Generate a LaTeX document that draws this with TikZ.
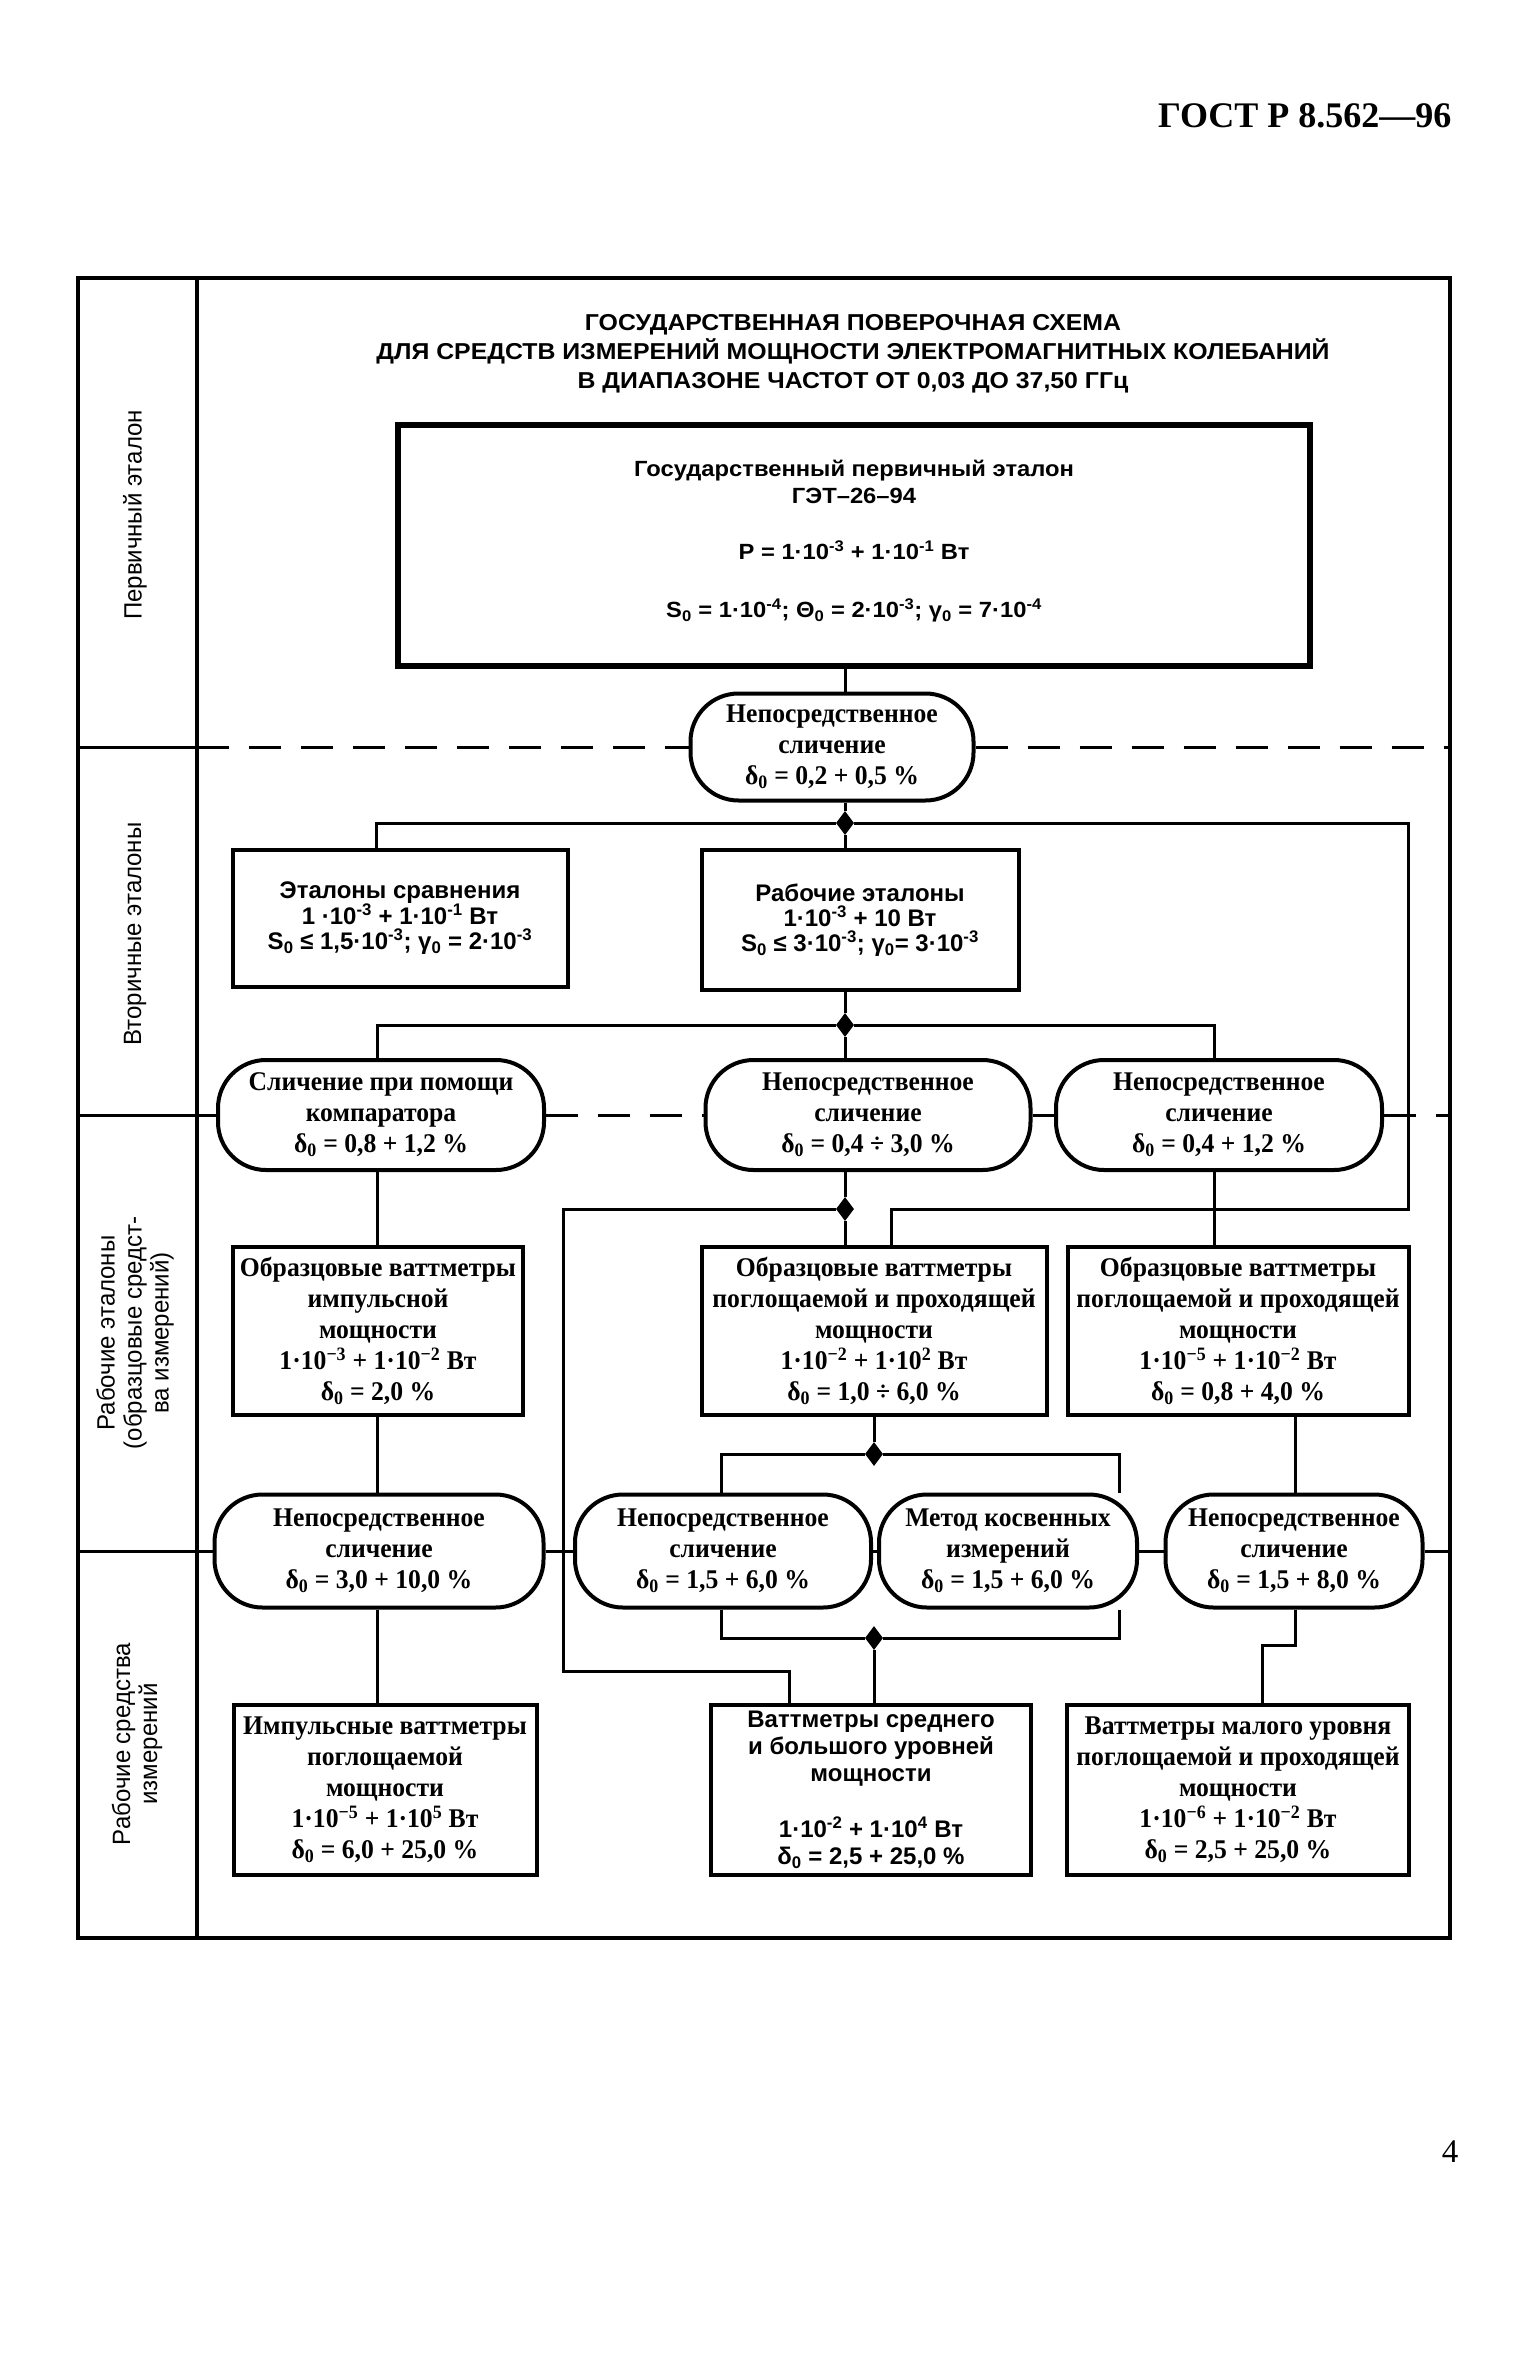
\documentclass[tikz,border=0pt]{standalone}
\usepackage{fontspec}
\setmainfont{Liberation Serif}
\newfontfamily\sansf{Liberation Sans}
\newfontfamily\titf[FakeStretch=1.08]{Liberation Sans}
\newfontfamily\labf[FakeStretch=0.96]{Liberation Sans}
\newfontfamily\serf[FakeStretch=0.95]{Liberation Serif}
\usetikzlibrary{shapes.geometric}
\begin{document}
\begin{tikzpicture}[x=1pt,y=-1pt,
  conn/.style={line width=3pt},
  sepline/.style={line width=3pt, dash pattern=on 32pt off 20pt},
  sbox/.style={draw, line width=4pt, fill=white, align=center, inner sep=0pt},
  oval/.style={draw, line width=4pt, fill=white, rounded corners=48pt, align=center, inner sep=0pt},
  jn/.style={diamond, fill=black, inner sep=0pt, minimum width=18pt, minimum height=24pt},
  sertext/.style={font=\serf\bfseries\fontsize{27}{31}\selectfont},
  santext/.style={font=\sansf\bfseries\fontsize{24}{25}\selectfont},
  labtext/.style={font=\labf\fontsize{25}{27}\selectfont, align=center, rotate=90}
]
\useasboundingbox (0,0) rectangle (1534,2355);

% header and page number
\node[anchor=base east, font=\bfseries\fontsize{36}{40}\selectfont] (hdr) at (1455,128) {ГОСТ Р 8.562—96};
\node[font=\fontsize{33}{38}\selectfont] (pg) at (1450,2152) {4};

% frame and label column
\draw[line width=4pt] (78,278) rectangle (1450,1938);
\draw[line width=4pt] (197,278) -- (197,1938);
\draw[line width=3pt] (78,747) -- (197,747);
\draw[line width=3pt] (78,1115) -- (197,1115);
\draw[line width=3pt] (78,1551) -- (197,1551);

\node[labtext] (l1) at (135,515) {Первичный эталон};
\node[labtext] (l2) at (135,934) {Вторичные эталоны};
\node[labtext] (l3) at (135,1333) {Рабочие эталоны\\(образцовые средст-\\ва измерений)};
\node[labtext] (l4) at (137,1744) {Рабочие средства\\измерений};

% title
\node[font=\titf\bfseries\fontsize{23}{29}\selectfont, align=center] (title) at (853,354)
 {ГОСУДАРСТВЕННАЯ ПОВЕРОЧНАЯ СХЕМА\\ДЛЯ СРЕДСТВ ИЗМЕРЕНИЙ МОЩНОСТИ ЭЛЕКТРОМАГНИТНЫХ КОЛЕБАНИЙ\\В ДИАПАЗОНЕ ЧАСТОТ ОТ 0,03 ДО 37,50 ГГц};

% top box
\node[sbox, line width=6pt, minimum width=912pt, minimum height=241pt] (tb) at (854,545) {};
\node[align=center, font=\titf\bfseries\fontsize{22}{27}\selectfont] (tbt) at (854,541)
 {Государственный первичный эталон\\ГЭТ–26–94\\[29pt]
  P = 1·10\textsuperscript{-3} + 1·10\textsuperscript{-1} Вт\\[31pt]
  S\textsubscript{0} = 1·10\textsuperscript{-4}; Θ\textsubscript{0} = 2·10\textsuperscript{-3}; γ\textsubscript{0} = 7·10\textsuperscript{-4}};

% oval 1
\node[oval, sertext, minimum width=283pt, minimum height=107pt] (o1) at (832,747)
 {Непосредственное\\сличение\\δ\textsubscript{0} = 0,2 + 0,5 \%};

% row 2 boxes
\node[sbox, santext, minimum width=335pt, minimum height=137pt] (b21) at (400,918)
 {Эталоны сравнения\\1 ·10\textsuperscript{-3} + 1·10\textsuperscript{-1} Вт\\S\textsubscript{0} ≤ 1,5·10\textsuperscript{-3}; γ\textsubscript{0} = 2·10\textsuperscript{-3}};
\node[sbox, santext, minimum width=317pt, minimum height=140pt] (b22) at (860,920)
 {Рабочие эталоны\\1·10\textsuperscript{-3} + 10 Вт\\S\textsubscript{0} ≤ 3·10\textsuperscript{-3}; γ\textsubscript{0}= 3·10\textsuperscript{-3}};

% row 3 ovals
\node[oval, sertext, minimum width=326pt, minimum height=110pt] (o31) at (381,1115)
 {Сличение при помощи\\компаратора\\δ\textsubscript{0} = 0,8 + 1,2 \%};
\node[oval, sertext, minimum width=325pt, minimum height=110pt] (o32) at (868,1115)
 {Непосредственное\\сличение\\δ\textsubscript{0} = 0,4 ÷ 3,0 \%};
\node[oval, sertext, minimum width=326pt, minimum height=110pt] (o33) at (1219,1115)
 {Непосредственное\\сличение\\δ\textsubscript{0} = 0,4 + 1,2 \%};

% row 4 boxes
\node[sbox, sertext, minimum width=290pt, minimum height=168pt] (b41) at (378,1331)
 {Образцовые ваттметры\\импульсной\\мощности\\1·10\textsuperscript{−3} + 1·10\textsuperscript{−2} Вт\\δ\textsubscript{0} = 2,0 \%};
\node[sbox, sertext, minimum width=345pt, minimum height=168pt] (b42) at (874,1331)
 {Образцовые ваттметры\\поглощаемой и проходящей\\мощности\\1·10\textsuperscript{−2} + 1·10\textsuperscript{2} Вт\\δ\textsubscript{0} = 1,0 ÷ 6,0 \%};
\node[sbox, sertext, minimum width=341pt, minimum height=168pt] (b43) at (1238,1331)
 {Образцовые ваттметры\\поглощаемой и проходящей\\мощности\\1·10\textsuperscript{−5} + 1·10\textsuperscript{−2} Вт\\δ\textsubscript{0} = 0,8 + 4,0 \%};

% row 5 ovals
\node[oval, sertext, minimum width=329pt, minimum height=113pt] (o51) at (379,1551)
 {Непосредственное\\сличение\\δ\textsubscript{0} = 3,0 + 10,0 \%};
\node[oval, sertext, minimum width=296pt, minimum height=113pt] (o52) at (723,1551)
 {Непосредственное\\сличение\\δ\textsubscript{0} = 1,5 + 6,0 \%};
\node[oval, sertext, minimum width=258pt, minimum height=113pt] (o53) at (1008,1551)
 {Метод косвенных\\измерений\\δ\textsubscript{0} = 1,5 + 6,0 \%};
\node[oval, sertext, minimum width=257pt, minimum height=113pt] (o54) at (1294,1551)
 {Непосредственное\\сличение\\δ\textsubscript{0} = 1,5 + 8,0 \%};

% row 6 boxes
\node[sbox, sertext, minimum width=303pt, minimum height=170pt] (b61) at (385,1790)
 {Импульсные ваттметры\\поглощаемой\\мощности\\1·10\textsuperscript{−5} + 1·10\textsuperscript{5} Вт\\δ\textsubscript{0} = 6,0 + 25,0 \%};
\node[sbox, font=\sansf\bfseries\fontsize{24}{27}\selectfont, minimum width=320pt, minimum height=170pt] (b62) at (871,1790)
 {Ваттметры среднего\\и большого уровней\\мощности\\[29pt]1·10\textsuperscript{-2} + 1·10\textsuperscript{4} Вт\\δ\textsubscript{0} = 2,5 + 25,0 \%};
\node[sbox, sertext, minimum width=342pt, minimum height=170pt] (b63) at (1238,1790)
 {Ваттметры малого уровня\\поглощаемой и проходящей\\мощности\\1·10\textsuperscript{−6} + 1·10\textsuperscript{−2} Вт\\δ\textsubscript{0} = 2,5 + 25,0 \%};

% junctions
\node[jn] (j1) at (845,823) {};
\node[jn] (j2) at (845,1025) {};
\node[jn] (j3) at (845,1209) {};
\node[jn] (j4) at (874,1454) {};
\node[jn] (j5) at (874,1638) {};

\coordinate (c1l) at (376,823);
\coordinate (c1r) at (1408,823);
\coordinate (c2l) at (377,1025);
\coordinate (c2r) at (1214,1025);
\coordinate (c3r) at (1408,1209);
\coordinate (c3m) at (891,1209);
\coordinate (c3l) at (563,1209);
\coordinate (c5l) at (563,1671);
\coordinate (c5r) at (789,1671);
\coordinate (c4l) at (721,1454);
\coordinate (c4r) at (1119,1454);
\coordinate (c6l) at (721,1638);
\coordinate (c6r) at (1119,1638);
\coordinate (c7a) at (1295,1645);
\coordinate (c7b) at (1262,1645);

% connectors
\draw[conn] (tb.south -| j1) -- (o1.north -| j1);
\draw[conn] (o1.south -| j1) -- (j1) -- (b22.north -| j1);
\draw[conn] (c1l |- b21.north) -- (c1l) -- (j1) -- (c1r) -- (c3r) -- (c3m) -- (c3m |- b42.north);
\draw[conn] (b22.south -| j2) -- (j2) -- (o32.north -| j2);
\draw[conn] (c2l |- o31.north) -- (c2l) -- (j2) -- (c2r) -- (c2r |- o33.north);
\draw[conn] (o31.south -| c2l) -- (b41.north -| c2l);
\draw[conn] (o32.south -| j3) -- (j3) -- (b42.north -| j3);
\draw[conn] (j3) -- (c3l) -- (c5l) -- (c5r) -- (c5r |- b62.north);
\draw[conn] (o33.south -| c2r) -- (b43.north -| c2r);
\draw[conn] (b41.south -| c2l) -- (o51.north -| c2l);
\draw[conn] (b42.south -| j4) -- (j4);
\draw[conn] (c4l |- o52.north) -- (c4l) -- (j4) -- (c4r) -- (c4r |- o53.north);
\draw[conn] (b43.south -| c7a) -- (o54.north -| c7a);
\draw[conn] (o51.south -| c2l) -- (b61.north -| c2l);
\draw[conn] (c6l |- o52.south) -- (c6l) -- (j5) -- (c6r) -- (c6r |- o53.south);
\draw[conn] (j5) -- (b62.north -| j5);
\draw[conn] (o52.east) -- (o53.west);
\draw[conn] (o54.south -| c7a) -- (c7a) -- (c7b) -- (c7b |- b63.north);

% level separators
\draw[sepline] (197,747) -- (o1.west);
\draw[sepline] (o1.east) -- (1450,747);
\draw[sepline] (197,1115) -- (o31.west);
\draw[sepline] (o31.east) -- (o32.west);
\draw[sepline] (o32.east) -- (o33.west);
\draw[sepline] (o33.east) -- (1450,1115);
\draw[sepline] (197,1551) -- (o51.west);
\draw[sepline] (o51.east) -- (o52.west);
\draw[sepline] (o53.east) -- (o54.west);
\draw[sepline] (o54.east) -- (1450,1551);
\end{tikzpicture}
\end{document}
